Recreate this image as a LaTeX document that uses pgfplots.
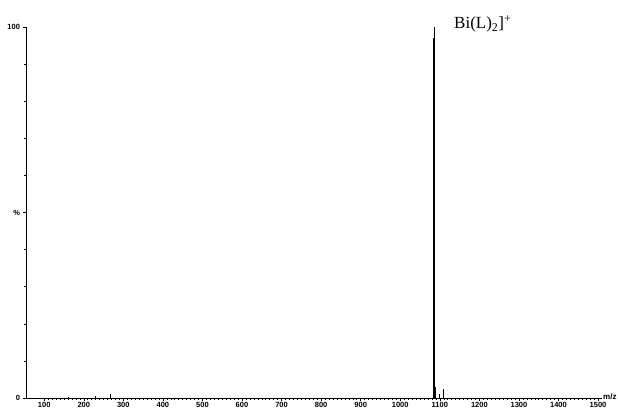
\documentclass[border=0pt]{standalone}
\usepackage{pgfplots}
\pgfplotsset{compat=1.18}
\usepackage{fontspec}
\setmainfont{Liberation Serif}
\newfontfamily\lab{Liberation Sans}
\begin{document}
\begin{tikzpicture}[x=1pt,y=1pt]
\path[use as bounding box] (0,0) rectangle (618,411);
\begin{axis}[
  at={(26pt,13pt)}, anchor=south west,
  scale only axis, width=576pt, height=371pt,
  xmin=54, xmax=1510, ymin=0, ymax=100,
  axis lines*=left,
  axis line style={line width=0.7pt},
  xtick={100,200,...,1500},
  minor x tick num=9,
  ytick={0,50,100}, yticklabels={0,\%,100},
  minor y tick num=4,
  tick align=outside,
  major tick length=3.5pt, minor tick length=2pt,
  tick style={black, line width=0.5pt},
  ticklabel style={font=\lab\bfseries\fontsize{7.5}{7.5}\selectfont},
  /pgf/number format/assume math mode=true,
  /pgf/number format/1000 sep={},
  xticklabel style={inner sep=0.8pt},
  yticklabel style={xshift=1pt},
  xlabel={m/z},
  xlabel style={font=\lab\bfseries\fontsize{8}{8}\selectfont, at={(rel axis cs:1,0)}, anchor=south west, inner sep=1pt, yshift=-3pt},
  clip=false,
]
\addplot[ycomb, black, line width=0.7pt, mark=none] coordinates {
(1084,97) (1085,100) (1086,98) (1087,5) (1088,3) (1108,2.5) (1098,1) (267,1.2) (160,0.4) (230,0.5)
};
\end{axis}
\node[anchor=base west, inner sep=0, font=\fontsize{17}{17}\selectfont] at (454,382) {Bi(L)\textsubscript{2}]\textsuperscript{+}};
\end{tikzpicture}
\end{document}
